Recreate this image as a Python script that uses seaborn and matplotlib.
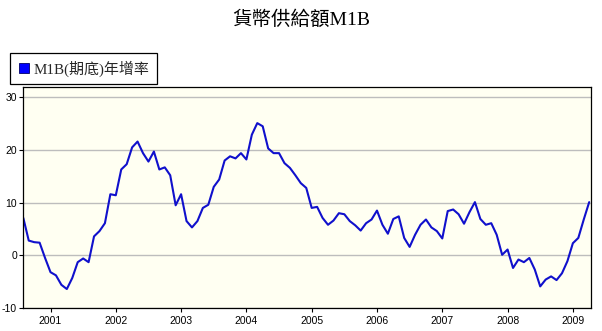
import numpy as np
import pandas as pd
import matplotlib
matplotlib.use("Agg")
import matplotlib.pyplot as plt
from matplotlib.lines import Line2D
import seaborn as sns

# M1B (end of period) year-over-year growth, %, monthly from Aug 2000 to Apr 2009
m1b_2000 = [7.1, 2.8, 2.5, 2.4, -0.5]  # Aug-Dec
m1b_2001 = [-3.2, -3.8, -5.6, -6.4, -4.3, -1.3, -0.6, -1.3, 3.6, 4.6, 6.1, 11.6]
m1b_2002 = [11.4, 16.3, 17.3, 20.5, 21.6, 19.4, 17.8, 19.7, 16.3, 16.7, 15.2, 9.5]
m1b_2003 = [11.6, 6.5, 5.3, 6.5, 9.0, 9.6, 13.0, 14.4, 18.0, 18.8, 18.4, 19.4]
m1b_2004 = [18.2, 22.9, 25.1, 24.5, 20.3, 19.4, 19.4, 17.5, 16.6, 15.2, 13.7, 12.8]
m1b_2005 = [9.0, 9.2, 7.1, 5.8, 6.6, 8.0, 7.8, 6.5, 5.7, 4.7, 6.1, 6.8]
m1b_2006 = [8.5, 5.8, 4.1, 6.9, 7.4, 3.3, 1.6, 3.9, 5.8, 6.8, 5.3, 4.6]
m1b_2007 = [3.2, 8.4, 8.7, 7.8, 6.0, 8.2, 10.1, 6.9, 5.8, 6.1, 3.9, 0.1]
m1b_2008 = [1.1, -2.4, -0.8, -1.3, -0.5, -2.7, -5.9, -4.6, -4.0, -4.7, -3.4, -1.1]
m1b_2009 = [2.3, 3.3, 6.8, 10.1]  # Jan-Apr

start_year, start_month = 2000, 8
year_ticks = [2001, 2002, 2003, 2004, 2005, 2006, 2007, 2008, 2009]
y_ticks = [-10, 0, 10, 20, 30]

title_text = "貨幣供給額M1B"
series_name = "M1B(期底)年增率"

values = (m1b_2000 + m1b_2001 + m1b_2002 + m1b_2003 + m1b_2004
          + m1b_2005 + m1b_2006 + m1b_2007 + m1b_2008 + m1b_2009)
months = np.arange(len(values))
# fractional year position of each monthly observation
t = start_year + (start_month - 1) / 12 + months / 12
df = pd.DataFrame({"t": t, "growth": values})

sns.set_theme(style="white")
plt.rcParams["font.family"] = ["Liberation Sans", "Noto Sans CJK TC", "DejaVu Sans"]

fig = plt.figure(figsize=(6.02, 3.31), dpi=100)
fig.patch.set_facecolor("white")
ax = fig.add_axes([23.3 / 602, 1 - 308 / 331, (590.5 - 23.3) / 602, (308 - 87.3) / 331])
ax.set_facecolor("#FFFFF2")

sns.lineplot(data=df, x="t", y="growth", ax=ax, color="#1010CC", linewidth=1.5,
             legend=False)
for ln in ax.get_lines():
    ln.set_solid_joinstyle("round")
    ln.set_solid_capstyle("round")

ax.set_xlim(t[0], t[-1] + 0.02)
ax.set_ylim(-10, 31.9)
ax.set_xticks(year_ticks)
ax.set_xticklabels([str(y) for y in year_ticks])
ax.set_yticks(y_ticks)
ax.set_yticklabels([str(v) for v in y_ticks])
ax.set_xlabel("")
ax.set_ylabel("")

ax.yaxis.grid(True, color="#BDBDBD", linewidth=1.0)
ax.xaxis.grid(False)
ax.set_axisbelow(True)
for side in ["top", "right", "bottom", "left"]:
    ax.spines[side].set_visible(True)
    ax.spines[side].set_color("black")
    ax.spines[side].set_linewidth(0.9)

ax.tick_params(axis="both", which="major", bottom=True, left=True, direction="out",
               length=3, width=0.8, color="black", labelsize=7.5, labelcolor="black")
ax.tick_params(axis="y", pad=1.5)
ax.tick_params(axis="x", pad=2.5)

fig.text(0.5, 1 - 20 / 331, title_text, ha="center", va="center", fontsize=14,
         family=["Liberation Serif", "Noto Sans CJK TC"], color="black")

handle = Line2D([], [], linestyle="", marker="s", markersize=7,
                markerfacecolor="#0000FF", markeredgecolor="#000066",
                markeredgewidth=0.6)
leg = fig.legend([handle], [series_name], loc="upper left",
                 bbox_to_anchor=(10 / 602, 1 - 53 / 331), borderaxespad=0,
                 fancybox=False, shadow=False, frameon=True, framealpha=1,
                 handlelength=0.8, handletextpad=0.3, borderpad=0.5,
                 prop={"family": ["Liberation Serif", "Noto Sans CJK TC"], "size": 10.8})
leg.get_frame().set_edgecolor("black")
leg.get_frame().set_linewidth(0.9)
leg.get_frame().set_facecolor("white")

fig.savefig("out.png", dpi=100, facecolor="white")
